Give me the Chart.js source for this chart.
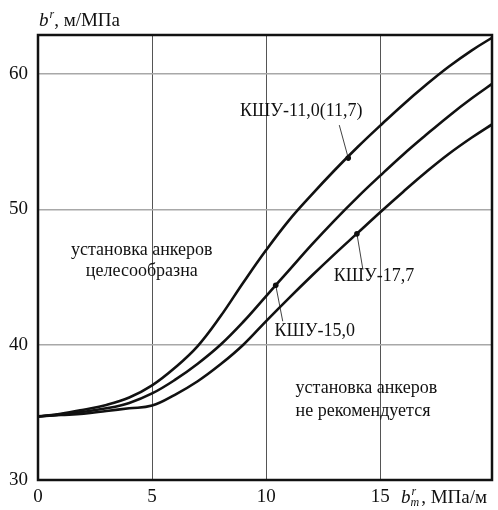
<!DOCTYPE html>
<html>
<head>
<meta charset="utf-8">
<script src="https://cdn.jsdelivr.net/npm/chart.js@4.4.1/dist/chart.umd.min.js"></script>
<style>
  html, body { margin: 0; padding: 0; background: #fff; }
  #wrap { width: 498px; height: 510px; position: relative; }
</style>
</head>
<body>
<div id="wrap"><canvas id="chart"></canvas></div>
<script>
// ── data ──
const xValues = [0, 1, 2, 3, 4, 5, 6, 7, 8, 9, 10, 11, 12, 13, 14, 15, 16, 17, 18, 19, 20];
const ksu110 = [34.7, 34.9, 35.2, 35.55, 36.1, 37.0, 38.3, 39.9, 42.1, 44.6, 47.0, 49.2, 51.1, 52.9, 54.6, 56.2, 57.75, 59.2, 60.55, 61.75, 62.8];
const ksu150 = [34.7, 34.85, 35.05, 35.3, 35.7, 36.4, 37.4, 38.6, 40.0, 41.7, 43.6, 45.5, 47.4, 49.2, 50.9, 52.5, 54.05, 55.5, 56.9, 58.2, 59.4];
const ksu177 = [34.7, 34.8, 34.9, 35.1, 35.3, 35.5, 36.3, 37.3, 38.55, 40.0, 41.75, 43.45, 45.1, 46.7, 48.25, 49.8, 51.3, 52.75, 54.1, 55.3, 56.4];

// marker points where the captions point to
const markX = [13.6, 10.42, 13.98];
const markY = [53.8, 44.4, 48.2];
const markLabels = ['КШУ-11,0(11,7)', 'КШУ-15,0', 'КШУ-17,7'];

const xTicks = [0, 5, 10, 15];
const yTicks = [30, 40, 50, 60];

const FONT = '"Liberation Serif", "Times New Roman", serif';
const INK = '#111';

function toPoints(ys) {
  return xValues.map((x, i) => ({ x, y: ys[i] }));
}

// caption offsets (px) relative to the marker: text centre and leader end
const captionLayout = [
  { tx: -47, ty: -47, lx: -9, ly: -33 },
  { tx: 39, ty: 46, lx: 7, ly: 36 },
  { tx: 17, ty: 42, lx: 6, ly: 36 }
];

const annotations = [
  { text: 'установка анкеров', x: 4.55, y: 47.0, align: 'center' },
  { text: 'целесообразна', x: 4.55, y: 45.4, align: 'center' },
  { text: 'установка анкеров', x: 11.29, y: 36.75, align: 'left' },
  { text: 'не рекомендуется', x: 11.29, y: 35.05, align: 'left' }
];

const decorPlugin = {
  id: 'decor',
  afterDatasetsDraw(chart) {
    const { ctx, chartArea: a, scales: { x, y } } = chart;
    ctx.save();
    ctx.fillStyle = INK;
    ctx.strokeStyle = INK;
    ctx.textBaseline = 'middle';

    // region notes
    ctx.font = '18px ' + FONT;
    annotations.forEach(n => {
      ctx.textAlign = n.align;
      ctx.fillText(n.text, x.getPixelForValue(n.x), y.getPixelForValue(n.y));
    });

    // curve captions with leader lines
    ctx.lineWidth = 0.8;
    markX.forEach((mx, i) => {
      const px = x.getPixelForValue(mx);
      const py = y.getPixelForValue(markY[i]);
      const c = captionLayout[i];
      ctx.beginPath();
      ctx.moveTo(px, py);
      ctx.lineTo(px + c.lx, py + c.ly);
      ctx.stroke();
      ctx.textAlign = 'center';
      ctx.fillText(markLabels[i], px + c.tx, py + c.ty);
    });

    // frame
    ctx.lineWidth = 2.5;
    ctx.strokeRect(a.left, a.top, a.right - a.left, a.bottom - a.top);
    ctx.restore();
  },
  afterDraw(chart) {
    const { ctx, chartArea: a } = chart;
    ctx.save();
    ctx.fillStyle = INK;
    ctx.textBaseline = 'alphabetic';
    ctx.textAlign = 'left';

    // y axis title: b^r, м/МПа
    let tx = a.left + 1, by = 26;
    ctx.font = 'italic 19px ' + FONT;
    ctx.fillText('b', tx, by);
    tx += ctx.measureText('b').width;
    ctx.font = 'italic 12px ' + FONT;
    ctx.fillText('r', tx + 1, by - 8);
    tx += ctx.measureText('r').width + 1;
    ctx.font = '19px ' + FONT;
    ctx.fillText(', м/МПа', tx, by);

    // x axis title: b^r_m , МПа/м
    tx = 401; by = 503;
    ctx.font = 'italic 19px ' + FONT;
    ctx.fillText('b', tx, by);
    tx += ctx.measureText('b').width;
    ctx.font = 'italic 12px ' + FONT;
    ctx.fillText('r', tx + 1, by - 8);
    ctx.fillText('m', tx, by + 3);
    tx += ctx.measureText('m').width + 2;
    ctx.font = '19px ' + FONT;
    ctx.fillText(', МПа/м', tx, by);
    ctx.restore();
  }
};

const curveStyle = {
  borderColor: INK,
  borderWidth: 2.6,
  pointRadius: 0,
  fill: false,
  tension: 0.4
};

new Chart(document.getElementById('chart'), {
  type: 'line',
  data: {
    datasets: [
      { label: markLabels[0], data: toPoints(ksu110), ...curveStyle },
      { label: markLabels[1], data: toPoints(ksu150), ...curveStyle },
      { label: markLabels[2], data: toPoints(ksu177), ...curveStyle },
      {
        type: 'scatter',
        label: 'marks',
        data: markX.map((x, i) => ({ x, y: markY[i] })),
        pointRadius: 2.8,
        pointBackgroundColor: INK,
        pointBorderWidth: 0,
        showLine: false
      }
    ]
  },
  options: {
    responsive: true,
    maintainAspectRatio: false,
    animation: false,
    layout: { padding: { top: 35, right: 6, left: 0, bottom: 0 } },
    plugins: { legend: { display: false }, tooltip: { enabled: false } },
    scales: {
      x: {
        type: 'linear',
        min: 0,
        max: 19.9,
        afterBuildTicks: s => { s.ticks = xTicks.map(v => ({ value: v })); },
        afterFit: s => { s.height = 30; },
        ticks: { color: INK, padding: 6, font: { family: FONT, size: 19 }, maxRotation: 0 },
        grid: { color: '#555', lineWidth: 1, drawTicks: false },
        border: { display: false }
      },
      y: {
        type: 'linear',
        min: 30,
        max: 62.9,
        afterBuildTicks: s => { s.ticks = yTicks.map(v => ({ value: v })); },
        afterFit: s => { s.width = 38; },
        ticks: { color: INK, padding: 10, font: { family: FONT, size: 19 } },
        grid: { color: '#a8a8a8', lineWidth: 1.6, drawTicks: false },
        border: { display: false }
      }
    }
  },
  plugins: [decorPlugin]
});
</script>
</body>
</html>
